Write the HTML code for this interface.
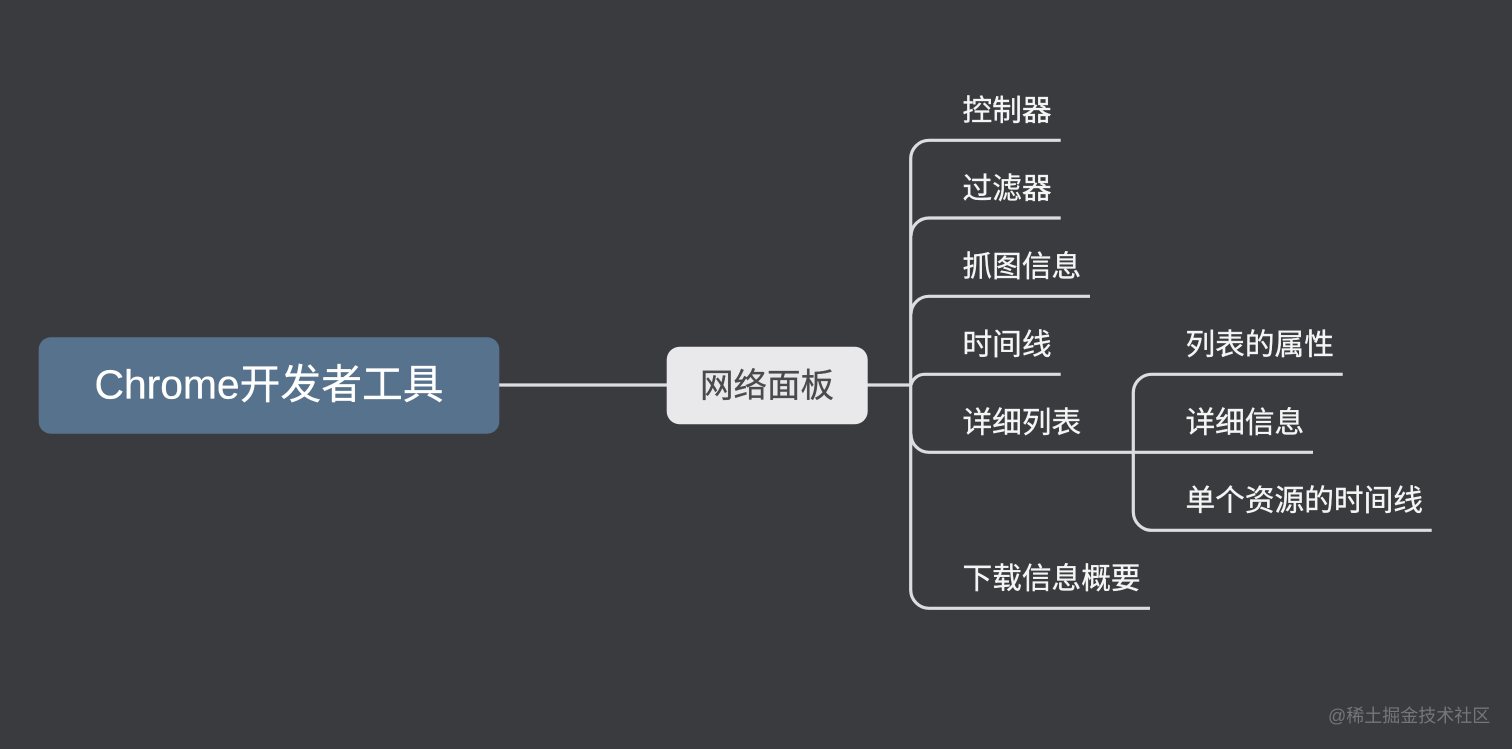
<!DOCTYPE html>
<html lang="zh">
<head>
<meta charset="utf-8">
<style>
html,body{margin:0;padding:0;background:#3a3b3f;width:1512px;height:749px;overflow:hidden}
svg{display:block}
text{font-family:"Liberation Sans","Noto Sans CJK SC",sans-serif}
</style>
</head>
<body>
<svg width="1512" height="749" viewBox="0 0 1512 749" xmlns="http://www.w3.org/2000/svg">
<rect width="1512" height="749" fill="#3a3b3f"/>
<g fill="none" stroke="#dcdde0" stroke-width="3.2">
<path d="M499 385H667"/>
<path d="M867 385H911"/>
<path d="M1060.7 140.3H929A18.5 18.5 0 0 0 910.7 159V590A18.5 18.5 0 0 0 929 608.3H1150"/>
<path d="M1060.7 218H929A18 18 0 0 0 911 236"/>
<path d="M1090 296.3H929A18 18 0 0 0 911 314"/>
<path d="M1060.7 374.3H925A14 14 0 0 0 911 385"/>
<path d="M911 434A18 18 0 0 0 929 452.3H1313"/>
<path d="M1342.7 374.3H1152A18.5 18.5 0 0 0 1133.3 393V512A18.5 18.5 0 0 0 1152 530.3H1431.7"/>
</g>
<rect x="38.7" y="337.3" width="460.6" height="96.4" rx="12" fill="#56728d"/>
<rect x="666.7" y="346.7" width="201" height="77.6" rx="13" fill="#e9e9eb"/>
<text x="94.5" y="398.5" font-size="40.8" fill="#ffffff" stroke="#ffffff" stroke-width="0.3">Chrome开发者工具</text>
<text x="700" y="397" font-size="33.5" fill="#4a4a4a" stroke="#4a4a4a" stroke-width="0.3">网络面板</text>
<g font-size="29.7" fill="#f5f5f5" stroke="#f5f5f5" stroke-width="0.35">
<text x="962.5" y="120.5">控制器</text>
<text x="962.5" y="198.5">过滤器</text>
<text x="962.5" y="276.5">抓图信息</text>
<text x="962.5" y="354.5">时间线</text>
<text x="962.5" y="432.5">详细列表</text>
<text x="962.5" y="588.5">下载信息概要</text>
<text x="1185.5" y="354.5">列表的属性</text>
<text x="1185.5" y="432.5">详细信息</text>
<text x="1185.5" y="510.5">单个资源的时间线</text>
</g>
<text x="1328" y="722" font-size="18" fill="#75767a">@稀土掘金技术社区</text>
</svg>
</body>
</html>
